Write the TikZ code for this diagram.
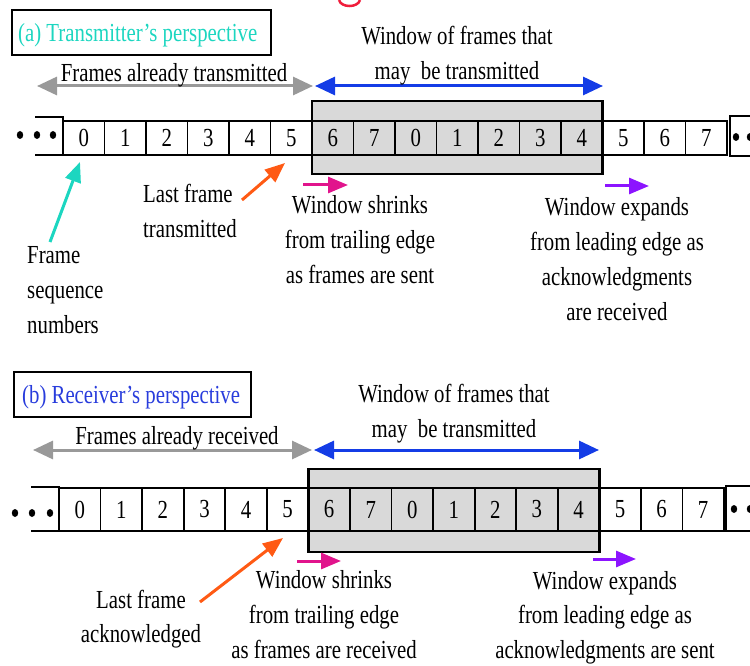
\documentclass[tikz,border=0pt]{standalone}
\usepackage{fontspec}
\setmainfont[FakeStretch=0.8]{Liberation Serif}
\usetikzlibrary{arrows.meta}

\definecolor{tealtxt}{RGB}{28,214,192}
\definecolor{bluewin}{RGB}{20,60,230}
\definecolor{bluetitle}{RGB}{40,60,220}
\definecolor{grayarr}{RGB}{153,153,153}
\definecolor{orangearr}{RGB}{255,90,20}
\definecolor{magentaarr}{RGB}{225,20,140}
\definecolor{violetarr}{RGB}{140,20,255}
\definecolor{winfill}{RGB}{217,217,217}
\definecolor{titlered}{RGB}{240,30,60}

\begin{document}
\begin{tikzpicture}[x=1pt,y=-1pt,
  font=\fontsize{26}{35}\selectfont,
  lbl/.style={inner sep=0pt, anchor=base},
  lblleft/.style={inner sep=0pt, anchor=base west},
  cell/.style={draw, line width=1.8pt, minimum width=41.5pt, inner sep=0pt},
  winbox/.style={draw, fill=winfill, line width=2.5pt, inner sep=0pt},
  titlebox/.style={draw, line width=2.5pt, inner sep=0pt},
  bothtips/.style={{Triangle[length=20pt,width=18pt]}-{Triangle[length=20pt,width=18pt]}},
  pointer/.style={line width=3pt, -{Triangle[length=20pt,width=16pt]}},
  edge/.style={line width=1.8pt},
  dot/.style={fill=black}
]
\useasboundingbox (0,0) rectangle (750,666);

% descender of the heading above, cut by the page edge
\draw[titlered, line width=2.5pt] (339,0) .. controls (341,8) and (358,8) .. (360,0);

%% ---------------- (a) transmitter ----------------
\node[titlebox, minimum width=259pt, minimum height=45pt] (titleA) at (141.5,32.5) {};
\node[lblleft, text=tealtxt] (titleAtext) at (18,42) {(a) Transmitter's perspective};

% extent arrows
\coordinate (ga1) at (37,86);
\coordinate (ga2) at (313,86);
\coordinate (ba1) at (315,86);
\coordinate (ba2) at (603,86);
\draw[grayarr, line width=3pt, bothtips] (ga1) -- (ga2);
\draw[bluewin, line width=3pt, bothtips] (ba1) -- (ba2);
\node[lbl] (doneA) at (174,82) {Frames already transmitted};
\foreach \t [count=\k from 0] in {Window of frames that, may\ \ be transmitted}
  \node[lbl] (winA-\k) at (457,45+35*\k) {\t};

% window and frame strip
\node[winbox, minimum width=290.5pt, minimum height=73pt] (winboxA) at (457.25,137.5) {};
\foreach \d [count=\i from 0] in {0,1,2,3,4,5,6,7,0,1,2,3,4,5,6,7} {
  \node[cell, minimum height=34pt] (ta\i) at ({63+41.5*(\i+0.5)},138) {\d};
}
\draw[edge] (35,117) -- (63,117) -- (63,155);
\draw[edge] (35,155) -- (63,155);
\draw[edge] (750,116) -- (730,116) -- (730,156) -- (750,156);
\foreach \x in {20,37,53} \fill[dot] (\x,135) ellipse (3.2pt and 4pt);
\fill[dot] (736,137) ellipse (3.2pt and 4pt);
\fill[dot] (750,137) ellipse (3.2pt and 4pt);

% annotations
\foreach \t [count=\k from 0] in {Frame, sequence, numbers}
  \node[lblleft] (seqA-\k) at (27,263+35*\k) {\t};
\coordinate (seqAtail) at (50,242);
\coordinate (seqAtip) at (80,162);
\draw[tealtxt, pointer] (seqAtail) -- (seqAtip);

\foreach \t [count=\k from 0] in {Last frame, transmitted}
  \node[lblleft] (lastA-\k) at (143,202+35*\k) {\t};
\coordinate (lastAtail) at (242,200);
\coordinate (lastAtip) at (285,163);
\draw[orangearr, pointer] (lastAtail) -- (lastAtip);

\coordinate (shrAtail) at (303,185);
\coordinate (shrAtip) at (348,185);
\draw[magentaarr, pointer] (shrAtail) -- (shrAtip);
\foreach \t [count=\k from 0] in {Window shrinks, from trailing edge, as frames are sent}
  \node[lbl] (shrA-\k) at (360,213+35*\k) {\t};

\coordinate (expAtail) at (605,186);
\coordinate (expAtip) at (649,186);
\draw[violetarr, pointer] (expAtail) -- (expAtip);
\foreach \t [count=\k from 0] in {Window expands, from leading edge as, acknowledgments, are received}
  \node[lbl] (expA-\k) at (617,215+35*\k) {\t};

%% ---------------- (b) receiver ----------------
\node[titlebox, minimum width=237pt, minimum height=45pt] (titleB) at (132.5,394.5) {};
\node[lblleft, text=bluetitle] (titleBtext) at (22,403) {(b) Receiver's perspective};

\coordinate (gb1) at (33,450);
\coordinate (gb2) at (312,450);
\coordinate (bb1) at (314,450);
\coordinate (bb2) at (599,450);
\draw[grayarr, line width=3pt, bothtips] (gb1) -- (gb2);
\draw[bluewin, line width=3pt, bothtips] (bb1) -- (bb2);
\node[lbl] (doneB) at (177,444) {Frames already received};
\foreach \t [count=\k from 0] in {Window of frames that, may\ \ be transmitted}
  \node[lbl] (winB-\k) at (454,402+35*\k) {\t};

\node[winbox, minimum width=291pt, minimum height=83pt] (winboxB) at (454,510.5) {};
\foreach \d [count=\i from 0] in {0,1,2,3,4,5,6,7,0,1,2,3,4,5,6,7} {
  \node[cell, minimum width=41.56pt, minimum height=43pt] (tb\i) at ({59+41.56*(\i+0.5)},509.5) {\d};
}
\draw[edge] (31,487) -- (59,487) -- (59,531);
\draw[edge] (31,531) -- (59,531);
\draw[edge] (750,486) -- (726,486) -- (726,531) -- (750,531);
\foreach \x in {15,32,50} \fill[dot] (\x,513) ellipse (3.2pt and 4pt);
\fill[dot] (734,509) ellipse (3.2pt and 4pt);
\fill[dot] (750,509) ellipse (3.2pt and 4pt);

\foreach \t [count=\k from 0] in {Last frame, acknowledged}
  \node[lbl] (lastB-\k) at (141,608+34*\k) {\t};
\coordinate (lastBtail) at (200,602);
\coordinate (lastBtip) at (283,538);
\draw[orangearr, pointer] (lastBtail) -- (lastBtip);

\coordinate (shrBtail) at (297,561);
\coordinate (shrBtip) at (341,561);
\draw[magentaarr, pointer] (shrBtail) -- (shrBtip);
\foreach \t [count=\k from 0] in {Window shrinks, from trailing edge, as frames are received}
  \node[lbl] (shrB-\k) at (324,588+35*\k) {\t};

\coordinate (expBtail) at (593,559);
\coordinate (expBtip) at (636,559);
\draw[violetarr, pointer] (expBtail) -- (expBtip);
\foreach \t [count=\k from 0] in {Window expands, from leading edge as, acknowledgments are sent}
  \node[lbl] (expB-\k) at (605,589+34.5*\k) {\t};
\end{tikzpicture}
\end{document}
